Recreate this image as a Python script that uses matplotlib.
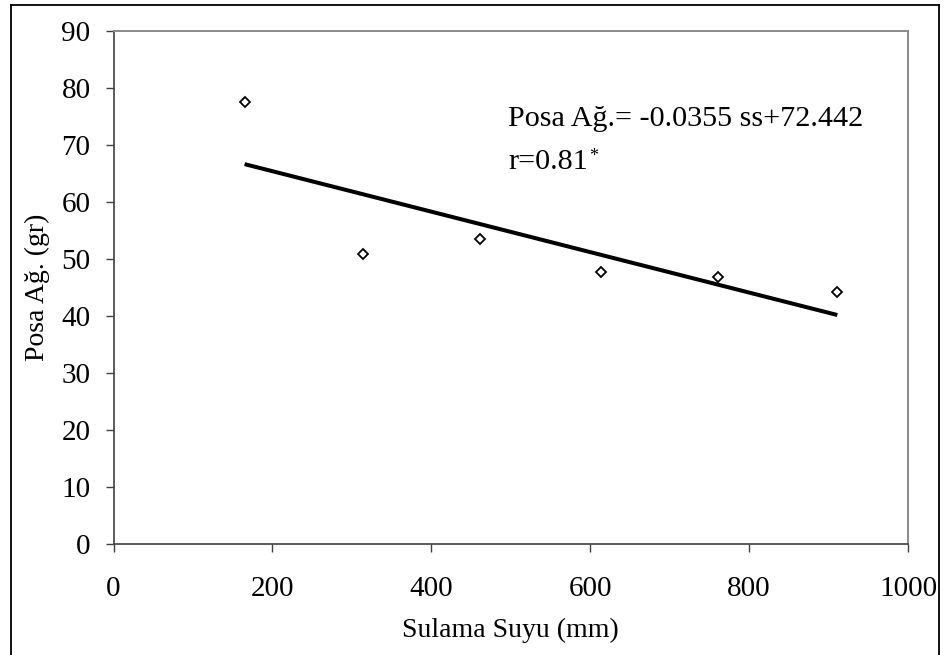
import matplotlib
matplotlib.use("Agg")
import matplotlib.pyplot as plt
from matplotlib.lines import Line2D
import numpy as np

# Data
sulama_suyu = [165, 314, 461, 614, 761, 911]          # irrigation water (mm)
posa_agirligi = [77.4, 50.8, 53.4, 47.7, 46.8, 44.2]  # pulp weight (gr)
slope = -0.0355
intercept = 72.442
x_ticks = [0, 200, 400, 600, 800, 1000]
y_ticks = [0, 10, 20, 30, 40, 50, 60, 70, 80, 90]
eq_text = "Posa Ağ.= -0.0355 ss+72.442"
r_text = "r=0.81"

plt.rcParams['font.family'] = ['Liberation Serif', 'DejaVu Serif']

W, H = 949, 655
fig = plt.figure(figsize=(W / 100, H / 100), dpi=100)
fig.patch.set_facecolor('white')

x0, x1, ytop, ybot = 113.5, 908.0, 30.7, 543.5
ax = fig.add_axes([x0 / W, (H - ybot) / H, (x1 - x0) / W, (ybot - ytop) / H])

ax.set_xlim(0, 1000)
ax.set_ylim(0, 90)
ax.set_xticks(x_ticks)
ax.set_yticks(y_ticks)
ax.set_xticklabels([str(v) for v in x_ticks])
ax.set_yticklabels([str(v) for v in y_ticks])

for s in ['left', 'bottom']:
    ax.spines[s].set_color('#404040')
    ax.spines[s].set_linewidth(1.2)
for s in ['top', 'right']:
    ax.spines[s].set_color('#8a8a8a')
    ax.spines[s].set_linewidth(1.4)

ax.tick_params(axis='both', direction='out', length=6, width=1.0, color='#404040',
               labelsize=21, top=False, right=False)
ax.tick_params(axis='x', pad=17.5)
ax.tick_params(axis='y', pad=10.5)

# scatter
ax.plot(sulama_suyu, posa_agirligi, linestyle='none', marker='D', markersize=5.6,
        markerfacecolor='white', markeredgecolor='black', markeredgewidth=1.3, zorder=3)

# regression line between first and last x
xl = np.array([sulama_suyu[0], sulama_suyu[-1]])
ax.plot(xl, slope * xl + intercept, color='black', linewidth=2.9, solid_capstyle='butt', zorder=2)

ax.set_xlabel("Sulama Suyu (mm)", fontsize=20, labelpad=11)
ax.set_ylabel("Posa Ağ. (gr)", fontsize=20, labelpad=8)

ax.text(0.497, 0.814, eq_text, transform=ax.transAxes, fontsize=21.7,
        ha='left', va='baseline')
t = ax.text(0.497, 0.730, r_text, transform=ax.transAxes, fontsize=21.7,
            ha='left', va='baseline')
ax.annotate("*", xy=(1, 1), xycoords=t, xytext=(0.5, 1), textcoords='offset points',
            fontsize=13, ha='left', va='top')

# outer frame (open at bottom)
fx0, fx1, fy = 10.5 / W, 938.5 / W, 1 - 4.5 / H
for xs, ys in [([fx0, fx0], [0, fy]), ([fx0, fx1], [fy, fy]), ([fx1, fx1], [fy, 0])]:
    fig.add_artist(Line2D(xs, ys, transform=fig.transFigure, color='black', linewidth=1.3))

fig.savefig("out.png", dpi=100, facecolor='white')
